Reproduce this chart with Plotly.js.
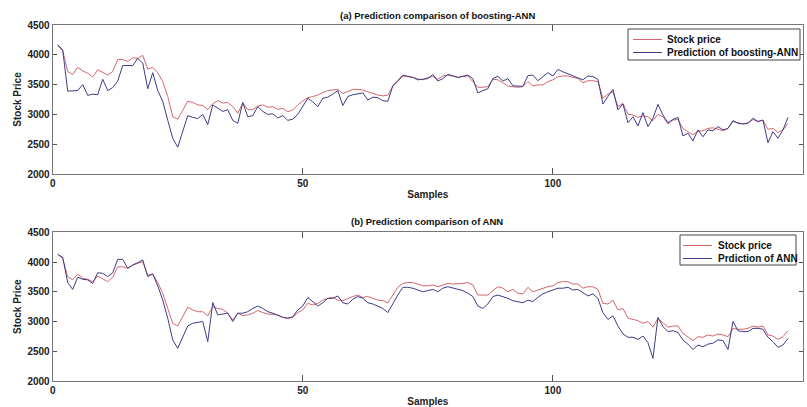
<!DOCTYPE html>
<html>
<head>
<meta charset="utf-8">
<script src="https://cdn.plot.ly/plotly-3.0.1.min.js"></script>
<style>html,body{margin:0;padding:0;background:#fff;}#chart{width:807px;height:407px;}</style>
</head>
<body>
<div id="chart"></div>
<script>
// Sample index 1..147
const samples = Array.from({length: 147}, (_, i) => i + 1);

// (a) boosting-ANN panel
const stockA = [4150,4070,3720,3670,3790,3730,3690,3630,3750,3700,3660,3720,3920,3920,3890,3950,3940,3990,3760,3790,
3700,3550,3300,2960,2920,3070,3220,3200,3160,3150,3080,3180,3230,3190,3200,3130,3020,3190,3080,3080,
3140,3160,3120,3130,3085,3100,3045,3075,3160,3225,3280,3300,3325,3365,3400,3410,3420,3350,3380,3420,
3420,3410,3380,3350,3325,3310,3325,3475,3550,3645,3635,3620,3595,3580,3620,3635,3590,3645,3660,3635,
3620,3635,3645,3550,3455,3455,3465,3590,3580,3530,3475,3465,3455,3465,3550,3475,3495,3495,3550,3580,
3635,3645,3645,3620,3605,3530,3565,3565,3550,3270,3340,3380,3130,3185,3005,2990,2950,2975,2960,2895,
3000,2960,2840,2905,2915,2765,2710,2655,2720,2725,2765,2775,2750,2725,2765,2880,2860,2840,2860,2915,
2880,2905,2750,2765,2695,2740,2850];
const predBoost = [4170,4080,3390,3390,3400,3500,3320,3340,3330,3590,3400,3450,3560,3820,3820,3820,3940,3860,3430,3700,
3400,3220,2900,2600,2450,2700,2980,2950,2930,3000,2830,3160,3100,3050,3080,2900,2850,3200,2960,2980,
3130,3050,3000,3010,2940,2980,2900,2920,3000,3130,3270,3210,3130,3270,3290,3340,3400,3150,3300,3330,
3350,3360,3240,3290,3280,3230,3220,3480,3570,3660,3640,3620,3580,3590,3600,3670,3560,3600,3670,3650,
3620,3640,3660,3600,3360,3400,3430,3600,3640,3560,3600,3480,3480,3470,3650,3660,3565,3635,3700,3645,
3755,3715,3680,3645,3620,3580,3645,3635,3590,3175,3300,3420,3075,3175,2860,2960,2805,3030,2795,2935,
3170,2990,2860,2915,2950,2640,2685,2555,2740,2625,2740,2725,2795,2740,2765,2895,2850,2840,2850,2935,
2880,2905,2525,2710,2600,2740,2950];

// (b) ANN panel
const stockB = [4130,4060,3755,3700,3800,3725,3710,3670,3765,3710,3670,3745,3920,3920,3895,3950,3980,4005,3780,3800,
3655,3475,3220,2970,2925,3080,3240,3195,3165,3165,3095,3250,3220,3205,3140,3025,3140,3100,3110,3140,
3185,3150,3125,3120,3110,3070,3055,3070,3150,3195,3305,3280,3305,3360,3390,3405,3360,3350,3390,3420,
3445,3405,3420,3390,3360,3350,3315,3445,3575,3640,3655,3655,3630,3600,3600,3615,3585,3615,3640,3630,
3630,3640,3655,3615,3445,3445,3445,3520,3585,3560,3500,3540,3475,3465,3575,3500,3530,3560,3585,3600,
3655,3670,3670,3630,3630,3560,3585,3585,3540,3305,3295,3360,3195,3220,3055,3035,3015,2970,3000,2905,
3055,2980,2905,2925,2925,2800,2745,2680,2745,2735,2775,2755,2790,2775,2745,2885,2870,2870,2885,2925,
2905,2925,2775,2755,2700,2745,2845];
const predANN = [4130,4080,3655,3540,3745,3710,3700,3640,3820,3810,3755,3820,4045,4045,3895,3950,3990,4035,3755,3800,
3600,3360,3055,2690,2550,2745,2925,2970,2980,3000,2660,3320,3110,3125,3140,3000,3140,3140,3165,3220,
3260,3220,3165,3140,3110,3070,3055,3080,3195,3260,3405,3335,3260,3315,3390,3390,3430,3315,3295,3375,
3420,3390,3315,3295,3260,3220,3150,3305,3445,3575,3575,3560,3530,3500,3520,3540,3500,3560,3585,3560,
3540,3520,3475,3420,3260,3220,3295,3420,3445,3420,3390,3350,3335,3315,3360,3335,3405,3465,3500,3530,
3560,3560,3575,3530,3540,3485,3430,3465,3390,3150,3035,3095,2925,2790,2735,2735,2700,2755,2645,2380,
3070,2915,2830,2845,2815,2690,2620,2530,2605,2575,2620,2635,2690,2680,2530,3000,2845,2830,2830,2885,
2885,2870,2735,2660,2565,2605,2715];

const xTicks = [0, 50, 100, 150];
const yTicks = [2000, 2500, 3000, 3500, 4000, 4500];
const titleA = '(a) Prediction comparison of boosting-ANN';
const titleB = '(b) Prediction comparison of ANN';
const legendA = ['Stock price', 'Prediction of boosting-ANN'];
const legendB = ['Stock price', 'Prdiction of ANN'];

const RED = '#d4666c';
const BLUE = '#3c3c8a';
const FONT = 'Liberation Sans, Arial, sans-serif';

const traces = [
  {x: samples, y: stockA, type: 'scatter', mode: 'lines', name: legendA[0], line: {color: RED, width: 1}, xaxis: 'x', yaxis: 'y'},
  {x: samples, y: predBoost, type: 'scatter', mode: 'lines', name: legendA[1], line: {color: BLUE, width: 1}, xaxis: 'x', yaxis: 'y'},
  {x: samples, y: stockB, type: 'scatter', mode: 'lines', name: legendB[0], line: {color: RED, width: 1}, xaxis: 'x2', yaxis: 'y2'},
  {x: samples, y: predANN, type: 'scatter', mode: 'lines', name: legendB[1], line: {color: BLUE, width: 1}, xaxis: 'x2', yaxis: 'y2'}
];

const W = 807, H = 407;
const px = v => v / W, py = v => 1 - v / H;

function xAxis(anchor) {
  return {
    domain: [px(52.7), px(803)], range: [0, 150], anchor: anchor,
    tickmode: 'array', tickvals: xTicks, ticktext: xTicks.map(String),
    ticks: 'inside', ticklen: 6, tickcolor: '#555', showline: true, linecolor: '#777', linewidth: 1, mirror: 'allticks',
    showgrid: false, zeroline: false,
    tickfont: {family: FONT, size: 10, color: '#222', weight: 'bold'},
    title: {text: 'Samples', font: {family: FONT, size: 10, color: '#222', weight: 'bold'}, standoff: 2}
  };
}
function yAxis(top, bottom, anchor) {
  return {
    domain: [py(bottom), py(top)], range: [2000, 4500], anchor: anchor,
    tickmode: 'array', tickvals: yTicks, ticktext: yTicks.map(String),
    ticks: 'inside', ticklen: 4, tickcolor: '#555', showline: true, linecolor: '#777', linewidth: 1, mirror: 'allticks',
    showgrid: false, zeroline: false,
    tickfont: {family: FONT, size: 10, color: '#222', weight: 'bold'},
    title: {text: 'Stock Price', font: {family: FONT, size: 10, color: '#222', weight: 'bold'}, standoff: 3}
  };
}

// Legend boxes drawn in paper space (box, sample lines, labels)
function legendParts(box, lineX0, lineX1, textX, rowY, labels) {
  const shapes = [
    {type: 'rect', xref: 'paper', yref: 'paper', x0: px(box[0]), x1: px(box[1]), y0: py(box[3]), y1: py(box[2]),
      line: {color: '#444', width: 1}, fillcolor: '#fff', layer: 'above'},
    {type: 'line', xref: 'paper', yref: 'paper', x0: px(lineX0), x1: px(lineX1), y0: py(rowY[0]), y1: py(rowY[0]), line: {color: RED, width: 1}, layer: 'above'},
    {type: 'line', xref: 'paper', yref: 'paper', x0: px(lineX0), x1: px(lineX1), y0: py(rowY[1]), y1: py(rowY[1]), line: {color: BLUE, width: 1}, layer: 'above'}
  ];
  const ann = labels.map((t, i) => ({
    text: t, xref: 'paper', yref: 'paper', x: px(textX), y: py(rowY[i]), xanchor: 'left', yanchor: 'middle', showarrow: false,
    font: {family: FONT, size: 10, color: '#111', weight: 'bold'}
  }));
  return {shapes, ann};
}
const legA = legendParts([628, 800, 29, 60], 633, 662, 665, [39.5, 52.5], legendA);
const legB = legendParts([680, 796, 235, 265], 683, 712, 716, [245.5, 258.5], legendB);

const layout = {
  width: W, height: H,
  margin: {l: 0, r: 0, t: 0, b: 0},
  paper_bgcolor: '#fff', plot_bgcolor: '#fff',
  showlegend: false,
  xaxis: xAxis('y'),
  yaxis: yAxis(25, 174, 'x'),
  xaxis2: xAxis('y2'),
  yaxis2: yAxis(232.3, 381, 'x2'),
  shapes: legA.shapes.concat(legB.shapes),
  annotations: [
    {text: titleA, xref: 'paper', yref: 'paper', x: px(437), y: py(15), xanchor: 'center', yanchor: 'middle', showarrow: false,
      font: {family: FONT, size: 9.5, color: '#111', weight: 'bold'}},
    {text: titleB, xref: 'paper', yref: 'paper', x: px(427), y: py(222), xanchor: 'center', yanchor: 'middle', showarrow: false,
      font: {family: FONT, size: 9.5, color: '#111', weight: 'bold'}}
  ].concat(legA.ann, legB.ann)
};

Plotly.newPlot('chart', traces, layout, {displayModeBar: false, staticPlot: true});
</script>
</body>
</html>
